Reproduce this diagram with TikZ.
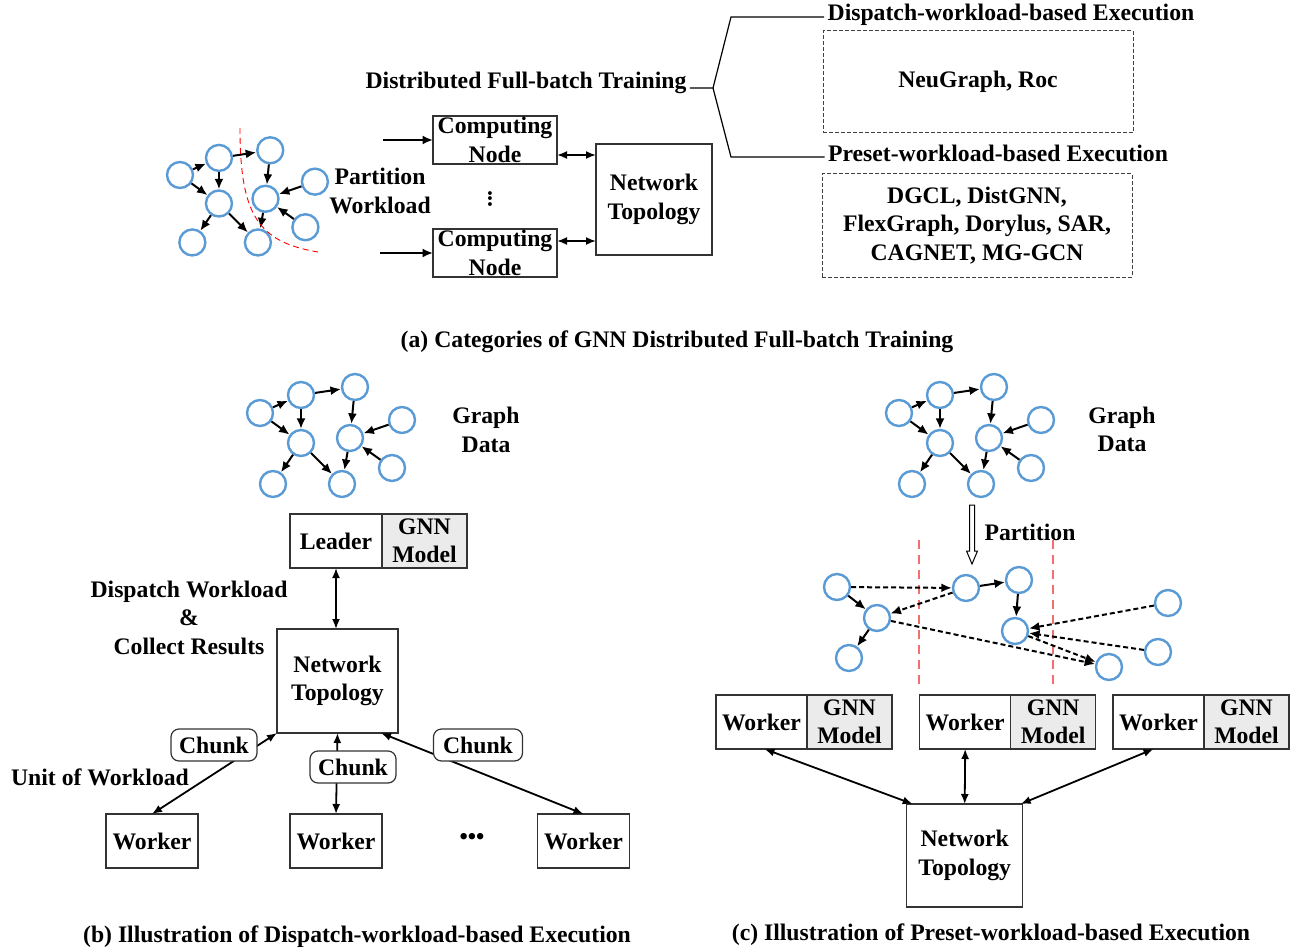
\documentclass[tikz,border=0pt]{standalone}
\usepackage{fontspec}
\setmainfont{Liberation Serif}
\usepackage{xcolor}
\usepackage{tikz}
\usetikzlibrary{arrows.meta,positioning}

\definecolor{vblue}{HTML}{5B9BD5}
\definecolor{cutred}{HTML}{F07070}
\definecolor{modelgray}{HTML}{EBEBEB}

\tikzset{
  vert/.style={circle,draw=vblue,line width=2.4pt,minimum size=26pt,inner sep=0pt,fill=white},
  link/.style={line width=2pt,-{Latex[length=10.5pt,width=9pt]}},
  remote/.style={link,dash pattern=on 5pt off 3pt},
  duplex/.style={line width=1.8pt,{Latex[length=10pt,width=8pt]}-{Latex[length=10pt,width=8pt]}},
  box/.style={draw=black!80,line width=1.3pt,inner sep=0pt,outer sep=0pt,align=center},
  worker/.style={box,minimum width=92pt,minimum height=54pt},
  model/.style={box,fill=modelgray,minimum width=85pt,minimum height=54pt},
  sysbox/.style={draw=black!75,line width=1pt,dash pattern=on 4pt off 2pt,align=center},
  chunk/.style={draw=black!80,line width=1.2pt,fill=white,rounded corners=8pt,minimum width=86pt,minimum height=32pt,inner sep=0pt},
  cutline/.style={cutred,line width=2pt,dash pattern=on 9pt off 6pt},
}

% the sample graph, drawn three times
\newcommand{\graphsketch}[3]{%
  \begin{scope}[shift={(#2)},scale=#3]
    \node[vert] (#1a) at (0,0) {};
    \node[vert] (#1b) at (41,-18) {};
    \node[vert] (#1c) at (95,-26) {};
    \node[vert] (#1d) at (41,30) {};
    \node[vert] (#1e) at (90,25) {};
    \node[vert] (#1f) at (142,7) {};
    \node[vert] (#1g) at (13,71) {};
    \node[vert] (#1h) at (82,71) {};
    \node[vert] (#1i) at (132,55) {};
    \draw[link] (#1a) -- (#1b);
    \draw[link] (#1a) -- (#1d);
    \draw[link] (#1b) -- (#1d);
    \draw[link] (#1b) -- (#1c);
    \draw[link] (#1c) -- (#1e);
    \draw[link] (#1f) -- (#1e);
    \draw[link] (#1i) -- (#1e);
    \draw[link] (#1d) -- (#1g);
    \draw[link] (#1d) -- (#1h);
    \draw[link] (#1e) -- (#1h);
  \end{scope}}

\begin{document}
\begin{tikzpicture}[x=1pt,y=-1pt,font=\fontsize{23.7}{28.5}\selectfont\bfseries]
    \useasboundingbox (0,0) rectangle (1292,952);

    % (a) categories
    \graphsketch{n}{180,175}{0.95}
    \draw[red,line width=0.9pt,dash pattern=on 6pt off 4pt] (240,128) .. controls (240,215) and (258,242) .. (318,252);
    \node[align=center] (pw) at (380,191) {Partition\\Workload};
    \node[box,minimum width=124pt,minimum height=48pt] (cn1) at (495,140) {Computing\\Node};
    \node[box,minimum width=124pt,minimum height=48pt] (cn2) at (495,253) {Computing\\Node};
    \node[rotate=90,inner sep=0pt] (vd) at (490,199) {...};
    \node[box,minimum width=116pt,minimum height=111pt] (nta) at (654,199.5) {Network\\Topology};
    \coordinate (in1) at (383,140);
    \coordinate (in2) at (380,253);
    \draw[link] (in1) -- (cn1);
    \draw[link] (in2) -- (cn2);
    \draw[duplex] (cn1.east |- 0,155) -- (nta.west |- 0,155);
    \draw[duplex] (cn2.east |- 0,241) -- (nta.west |- 0,241);

    \node (dft) at (526,83) {Distributed Full-batch Training};
    \node (dwe) at (1011,15) {Dispatch-workload-based Execution};
    \node (pwe) at (998,153) {Preset-workload-based Execution};
    \coordinate (fork) at (713,88);
    \draw[line width=1.2pt] (dft.east |- fork) -- (fork) -- ++(18,-71) -- (dwe.west |- 0,17);
    \draw[line width=1.2pt] (fork) -- ++(18,69) -- (pwe.west |- 0,157);
    \node[sysbox,minimum width=310pt,minimum height=102pt] (ex1) at (978,82) {NeuGraph, Roc};
    \node[sysbox,minimum width=310pt,minimum height=103pt] (ex2) at (977,225.5) {DGCL, DistGNN,\\FlexGraph, Dorylus, SAR,\\CAGNET, MG-GCN};
    \node (capa) at (677,342) {(a) Categories of GNN Distributed Full-batch Training};

    % (b) dispatch-workload-based
    \graphsketch{m}{260,413}{1}
    \node[align=center] (gdb) at (486,430) {Graph\\Data};
    \node[worker] (leader) at (336,541) {Leader};
    \node[model,right=0pt of leader] (lmodel) {GNN\\Model};
    \node[box,minimum width=121pt,minimum height=104pt] (ntb) at (337.5,681) {Network\\Topology};
    \node[align=center] (dcr) at (189,617.5) {Dispatch Workload\\\&\\Collect Results};
    \node[worker] (wb1) at (152,841) {Worker};
    \node[worker] (wb2) at (336,841) {Worker};
    \node[worker] (wb3) at (583.5,841) {Worker};
    \node (more) at (472,839) {•••};
    \draw[duplex] (leader.south) -- (leader.south |- ntb.north);
    \draw[duplex] (ntb.south west) -- (wb1.north);
    \draw[duplex] (ntb.south) -- (wb2.north);
    \draw[duplex] ([xshift=-17pt]ntb.south east) -- (wb3.north);
    \node[chunk] (ck1) at (214,745) {Chunk};
    \node[chunk] (ck2) at (353,767) {Chunk};
    \node[chunk,minimum width=89pt] (ck3) at (478,745) {Chunk};
    \node (uow) at (100,777) {Unit of Workload};
    \node (capb) at (357,937) {(b) Illustration of Dispatch-workload-based Execution};

    % (c) preset-workload-based
    \graphsketch{p}{899,413}{1}
    \node[align=center] (gdc) at (1122,429.5) {Graph\\Data};
    \draw[line width=1pt,fill=white] (969.5,505) -- (974.5,505) -- (974.5,551) -- (977.5,551)
        -- (972,564) -- (966.5,551) -- (969.5,551) -- cycle;
    \node (part) at (1030,532) {Partition};
    \draw[cutline] (919,540) -- (919,688);
    \draw[cutline] (1053,540) -- (1053,688);

    \node[vert] (sa) at (837,587) {};
    \node[vert] (sb) at (966,588) {};
    \node[vert] (sc) at (1019,580) {};
    \node[vert] (sd) at (877,618) {};
    \node[vert] (se) at (1015,631) {};
    \node[vert] (sf) at (1168,603) {};
    \node[vert] (sg) at (849,658) {};
    \node[vert] (sh) at (1109,667) {};
    \node[vert] (si) at (1158,652) {};
    \draw[remote] (sa) -- (sb);
    \draw[link] (sa) -- (sd);
    \draw[remote] (sb) -- (sd);
    \draw[link] (sb) -- (sc);
    \draw[link] (sc) -- (se);
    \draw[remote] (sf) -- (se);
    \draw[remote] (si) -- (se);
    \draw[link] (sd) -- (sg);
    \draw[remote] (sd) -- (sh);
    \draw[remote] (se) -- (sh);

    \node[worker,minimum width=91pt] (wc1) at (761.5,722) {Worker};
    \node[model,right=0pt of wc1] (mc1) {GNN\\Model};
    \node[worker,minimum width=91pt] (wc2) at (965.2,722) {Worker};
    \node[model,right=0pt of wc2] (mc2) {GNN\\Model};
    \node[worker,minimum width=91pt] (wc3) at (1158.5,722) {Worker};
    \node[model,right=0pt of wc3] (mc3) {GNN\\Model};
    \node[box,minimum width=116pt,minimum height=103pt] (ntc) at (964.7,855.5) {Network\\Topology};
    \draw[duplex] ([xshift=3pt]wc1.south) -- ([xshift=6pt]ntc.north west);
    \draw[duplex] (wc2.south) -- (ntc.north);
    \draw[duplex] ([xshift=-5pt]wc3.south) -- ([xshift=-2pt]ntc.north east);
    \node (capc) at (991,935) {(c) Illustration of Preset-workload-based Execution};
\end{tikzpicture}
\end{document}
